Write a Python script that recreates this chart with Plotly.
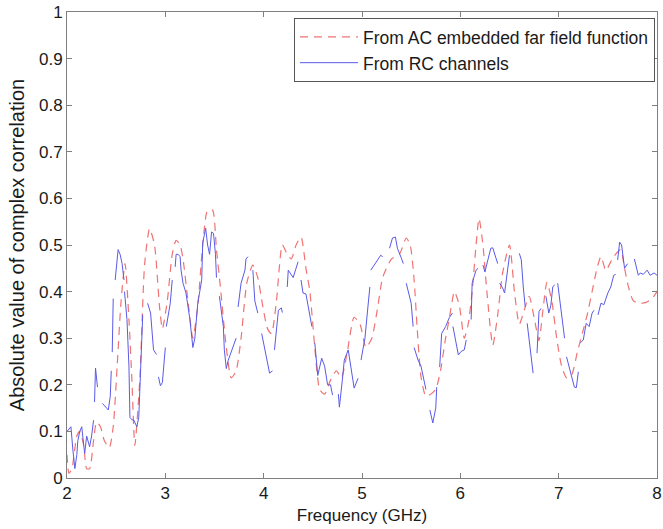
import plotly.graph_objects as go

# ---- data ----
red_f = [2.00, 2.02, 2.05, 2.10, 2.13, 2.17, 2.20, 2.23, 2.27, 2.30, 2.34, 2.38, 2.43, 2.47,
         2.51, 2.55, 2.59, 2.63, 2.66, 2.69, 2.74, 2.79, 2.84, 2.89, 2.94, 2.97, 3.02, 3.07,
         3.11, 3.15, 3.18, 3.23, 3.28, 3.33, 3.38, 3.43, 3.48, 3.52, 3.56, 3.62, 3.67, 3.72,
         3.77, 3.83, 3.89, 3.94, 3.99, 4.04, 4.08, 4.13, 4.19, 4.24, 4.28, 4.33, 4.38, 4.43,
         4.47, 4.52, 4.57, 4.62, 4.68, 4.74, 4.79, 4.85, 4.92, 4.98, 5.04, 5.10, 5.16, 5.21,
         5.30, 5.38, 5.45, 5.49, 5.53, 5.56, 5.60, 5.65, 5.70, 5.75, 5.80, 5.85, 5.89, 5.94,
         5.99, 6.04, 6.08, 6.12, 6.16, 6.19, 6.23, 6.27, 6.33, 6.38, 6.43, 6.50, 6.55, 6.60,
         6.65, 6.70, 6.75, 6.80, 6.84, 6.88, 6.93, 6.98, 7.03, 7.08, 7.13, 7.19, 7.24, 7.29,
         7.34, 7.39, 7.43, 7.48, 7.52, 7.56, 7.63, 7.67, 7.71, 7.76, 7.83, 7.89, 7.95, 8.00]
red_v = [0.05, 0.01, 0.02, 0.09, 0.10, 0.07, 0.02, 0.02, 0.08, 0.12, 0.11, 0.08, 0.065, 0.11,
         0.24, 0.38, 0.46, 0.34, 0.21, 0.07, 0.21, 0.46, 0.535, 0.50, 0.37, 0.32, 0.38, 0.48,
         0.51, 0.50, 0.47, 0.38, 0.30, 0.37, 0.50, 0.575, 0.575, 0.49, 0.41, 0.28, 0.215, 0.23,
         0.30, 0.42, 0.457, 0.43, 0.37, 0.32, 0.31, 0.38, 0.50, 0.48, 0.47, 0.50, 0.517, 0.45,
         0.40, 0.28, 0.19, 0.18, 0.21, 0.23, 0.215, 0.27, 0.345, 0.33, 0.28, 0.30, 0.367, 0.43,
         0.47, 0.48, 0.515, 0.50, 0.425, 0.325, 0.217, 0.175, 0.18, 0.19, 0.232, 0.30, 0.345, 0.40,
         0.37, 0.30, 0.33, 0.40, 0.50, 0.557, 0.50, 0.40, 0.285, 0.35, 0.44, 0.50, 0.40, 0.33,
         0.36, 0.39, 0.345, 0.295, 0.36, 0.42, 0.38, 0.30, 0.24, 0.215, 0.22, 0.27, 0.31, 0.35,
         0.40, 0.45, 0.475, 0.445, 0.46, 0.475, 0.49, 0.45, 0.41, 0.38, 0.375, 0.377, 0.385, 0.40]

# blue series, None marks a break in the line
blue_f = [2.00, 2.02, 2.04, 2.06, 2.08, 2.10, 2.11, 2.13, 2.15, 2.17, 2.18, 2.20, 2.22, 2.23, 2.25, 2.27, None,
          2.28, 2.29, 2.31, None,
          2.36, 2.39, 2.42, 2.44, 2.45, None,
          2.46, 2.47, None,
          2.49, 2.51, 2.52, 2.54, 2.56, 2.58, None,
          2.585, 2.61, 2.63, 2.64, 2.66, 2.68, 2.71, 2.73, 2.75, 2.76, 2.77, None,
          2.82, 2.85, 2.88, 2.91, None,
          2.93, 2.95, 2.97, 2.99, 3.00, None,
          3.01, 3.05, 3.07, None,
          3.10, 3.11, 3.13, 3.15, 3.16, 3.18, 3.21, 3.25, 3.28, 3.30, 3.33, 3.37, 3.38, 3.41, 3.43, 3.45, 3.47, 3.49, 3.51, 3.52, None,
          3.55, 3.59, 3.60, 3.62, 3.64, 3.67, 3.71, 3.72, None,
          3.74, 3.77, 3.81, 3.82, 3.84, None,
          3.89, 3.91, 3.94, None,
          3.98, 4.03, 4.06, 4.09, None,
          4.11, 4.15, 4.18, 4.19, None,
          4.24, 4.25, 4.30, 4.33, 4.35, None,
          4.38, 4.40, 4.43, 4.46, 4.49, None,
          4.52, 4.54, 4.55, 4.59, 4.62, 4.65, 4.68, 4.70, None,
          4.76, 4.77, 4.80, 4.82, 4.86, 4.89, 4.92, 4.96, None,
          4.99, 5.03, 5.06, 5.08, None,
          5.09, 5.13, 5.16, 5.19, 5.21, None,
          5.28, 5.31, 5.34, 5.36, 5.40, 5.42, None,
          5.45, 5.50, 5.52, None,
          5.53, 5.57, 5.60, 5.65, None,
          5.69, 5.72, 5.75, 5.76, None,
          5.79, 5.81, 5.85, 5.89, 5.92, None,
          5.925, 5.96, 5.98, 6.01, 6.04, 6.06, None,
          6.11, 6.12, 6.16, 6.18, None,
          6.23, 6.25, 6.28, 6.31, 6.33, 6.36, 6.38, None,
          6.40, 6.43, 6.45, 6.48, 6.50, None,
          6.60, 6.62, 6.64, 6.66, None,
          6.68, 6.72, 6.74, None,
          6.78, 6.80, 6.82, None,
          6.87, 6.90, 6.92, 6.94, 6.96, None,
          6.99, 7.02, 7.06, None,
          7.08, 7.12, 7.16, 7.18, 7.20, None,
          7.22, 7.25, 7.28, 7.31, 7.34, 7.36, None,
          7.40, 7.43, 7.46, 7.50, 7.53, 7.56, 7.58, None,
          7.60, 7.62, 7.64, 7.66, 7.67, 7.70, None,
          7.77, 7.79, 7.81, 7.83, 7.86, 7.90, 7.93, 7.97, 8.00]
blue_v = [0.10, 0.105, 0.11, 0.06, 0.02, 0.05, 0.08, 0.10, 0.11, 0.07, 0.053, 0.09, 0.075, 0.067, 0.09, 0.124, None,
          0.163, 0.236, 0.195, None,
          0.16, 0.152, 0.146, 0.175, 0.23, None,
          0.27, 0.385, None,
          0.425, 0.475, 0.49, 0.48, 0.46, 0.425, None,
          0.40, 0.34, 0.24, 0.13, 0.125, 0.124, 0.11, 0.13, 0.24, 0.325, 0.35, None,
          0.375, 0.354, 0.275, 0.265, None,
          0.217, 0.198, 0.205, 0.245, 0.28, None,
          0.325, 0.375, 0.425, None,
          0.453, 0.48, 0.48, 0.475, 0.446, 0.418, 0.397, 0.34, 0.28, 0.30, 0.375, 0.425, 0.504, 0.536, 0.50, 0.48, 0.528, 0.525, 0.48, 0.43, None,
          0.39, 0.325, 0.275, 0.235, 0.253, 0.27, 0.29, 0.30, None,
          0.367, 0.418, 0.446, 0.47, 0.475, None,
          0.446, 0.38, 0.354, None,
          0.31, 0.257, 0.225, 0.23, None,
          0.275, 0.36, 0.365, 0.355, None,
          0.41, 0.446, 0.43, 0.453, 0.464, None,
          0.425, 0.397, 0.395, 0.36, 0.325, None,
          0.29, 0.238, 0.22, 0.257, 0.24, 0.20, 0.20, 0.178, None,
          0.18, 0.152, 0.21, 0.253, 0.275, 0.23, 0.193, 0.214, None,
          0.253, 0.30, 0.367, 0.41, None,
          0.446, 0.46, 0.468, 0.478, 0.475, None,
          0.493, 0.515, 0.517, 0.493, 0.472, 0.46, None,
          0.418, 0.375, 0.325, None,
          0.28, 0.253, 0.24, 0.19, None,
          0.146, 0.118, 0.15, 0.195, None,
          0.238, 0.31, 0.325, 0.345, 0.354, None,
          0.325, 0.28, 0.264, 0.272, 0.275, 0.296, None,
          0.34, 0.418, 0.446, 0.45, None,
          0.457, 0.442, 0.468, 0.493, 0.494, 0.475, 0.46, None,
          0.418, 0.408, 0.397, 0.446, 0.478, None,
          0.482, 0.468, 0.41, 0.367, None,
          0.332, 0.253, 0.225, None,
          0.268, 0.357, 0.364, None,
          0.39, 0.354, 0.37, 0.41, 0.415, None,
          0.418, 0.367, 0.30, None,
          0.26, 0.225, 0.195, 0.194, 0.228, None,
          0.29, 0.296, 0.332, 0.325, 0.354, 0.36, None,
          0.35, 0.375, 0.372, 0.397, 0.41, 0.435, 0.437, None,
          0.468, 0.506, 0.50, 0.468, 0.45, 0.46, None,
          0.47, 0.454, 0.435, 0.44, 0.437, 0.446, 0.435, 0.44, 0.435]

x_ticks = [2, 3, 4, 5, 6, 7, 8]
x_labels = ["2", "3", "4", "5", "6", "7", "8"]
y_ticks = [0, 0.1, 0.2, 0.3, 0.4, 0.5, 0.6, 0.7, 0.8, 0.9, 1.0]
y_labels = ["0", "0.1", "0.2", "0.3", "0.4", "0.5", "0.6", "0.7", "0.8", "0.9", "1"]

name_red = "From AC embedded far field function"
name_blue = "From RC channels"

FONT = "Liberation Sans, Arial, Helvetica, sans-serif"
AXC = "#7f7f7f"
TXT = "#1a1a1a"

fig = go.Figure()
fig.add_trace(go.Scatter(
    x=red_f, y=red_v, mode="lines", name=name_red,
    line=dict(color="rgb(240,115,115)", width=1.2, dash="8px,6px", shape="spline", smoothing=0.6),
))
fig.add_trace(go.Scatter(
    x=blue_f, y=blue_v, mode="lines", name=name_blue, connectgaps=False,
    line=dict(color="rgb(90,90,232)", width=1),
))

axis_common = dict(
    showline=True, linecolor=AXC, linewidth=1, mirror="ticks",
    ticks="inside", ticklen=5, tickcolor=AXC, tickwidth=1,
    showgrid=False, zeroline=False, automargin=False,
    tickfont=dict(family=FONT, size=17, color=TXT),
)

fig.update_layout(
    width=663, height=529,
    margin=dict(l=67, r=6, t=12, b=51),
    paper_bgcolor="white", plot_bgcolor="white",
    font=dict(family=FONT, size=17, color=TXT),
    showlegend=True,
    legend=dict(
        x=0.9966, y=0.987, xanchor="right", yanchor="top",
        bordercolor="#555555", borderwidth=1, bgcolor="white",
        font=dict(family=FONT, size=17.5, color=TXT),
        tracegroupgap=0, itemwidth=58,
    ),
    xaxis=dict(range=[2, 8], tickvals=x_ticks, ticktext=x_labels,
               title=dict(text="Frequency (GHz)", standoff=6,
                          font=dict(family=FONT, size=17, color=TXT)),
               **axis_common),
    yaxis=dict(range=[0, 1], tickvals=y_ticks, ticktext=y_labels,
               title=dict(text="Absolute value of complex correlation", standoff=8,
                          font=dict(family=FONT, size=20, color=TXT)),
               **axis_common),
)

fig.write_html(
    "out.html",
    config={"displayModeBar": False},
    post_script="document.body.style.margin='0';document.body.style.padding='0';document.body.style.overflow='hidden';",
)
